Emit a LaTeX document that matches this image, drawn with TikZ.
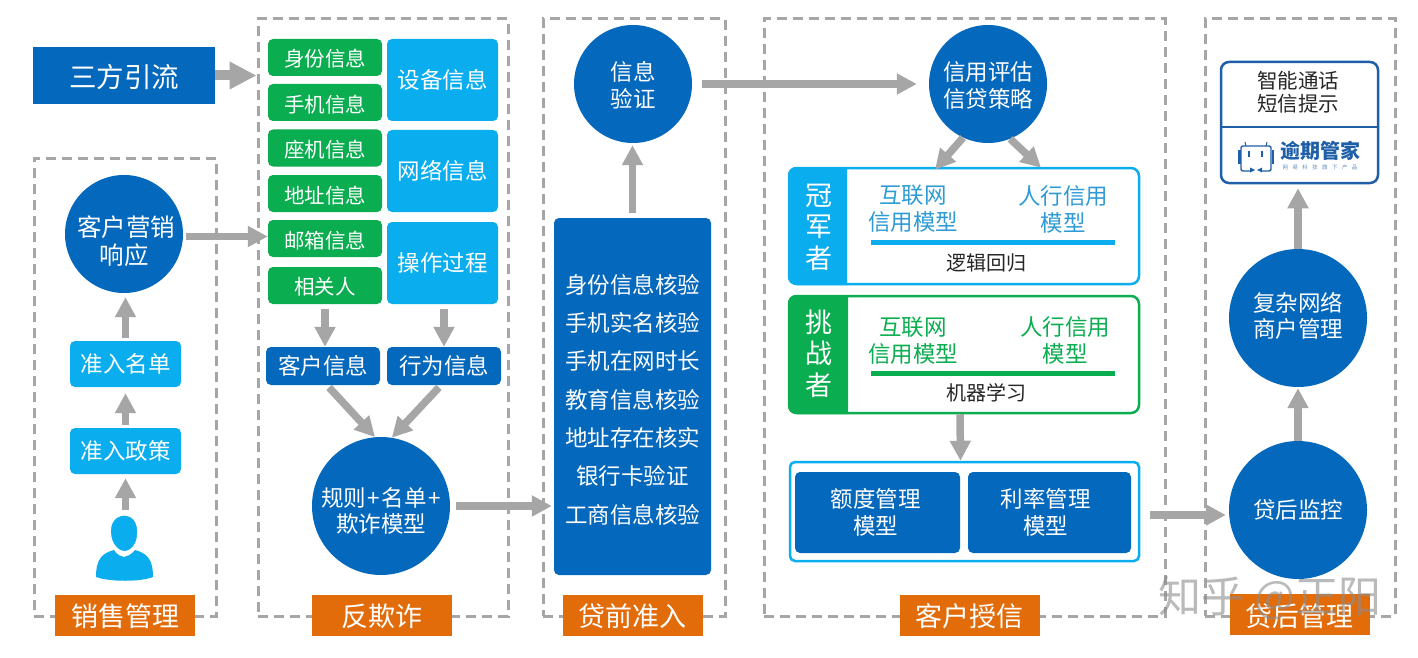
\documentclass[tikz,border=0pt]{standalone}
\usepackage{fontspec}
\setmainfont{Noto Sans CJK SC}
\usetikzlibrary{arrows.meta,calc}
\definecolor{dblue}{HTML}{0468BC}
\definecolor{lblue}{HTML}{0AAEEF}
\definecolor{mgreen}{HTML}{0AAD4F}
\definecolor{orangeb}{HTML}{E36C0A}
\definecolor{arrgray}{HTML}{A6A6A6}
\definecolor{txtblue}{HTML}{2E9BD6}
\definecolor{logoblue}{HTML}{1F5FA8}
\newcommand{\fsz}[2]{\fontsize{#1}{#2}\selectfont}
\newcommand{\nudge}[2]{\raisebox{#1}[\height][\depth]{#2}}
\tikzset{
  x=1pt,y=-1pt,
  box/.style={inner sep=0pt,align=center,text=white,rounded corners=5pt},
  greenbox/.style={box,fill=mgreen,minimum width=114pt,minimum height=37pt,font=\fsz{20.5}{25}},
  bluebox/.style={box,fill=lblue,minimum width=111pt,minimum height=82pt,font=\fsz{22.5}{27}},
  stepbox/.style={box,fill=lblue,minimum width=111pt,minimum height=46pt,font=\fsz{22.5}{27}},
  darkbox/.style={box,fill=dblue,minimum width=114pt,minimum height=38pt,font=\fsz{22.5}{27}},
  modelbox/.style={box,fill=dblue,minimum width=165pt,minimum height=81pt,font=\fsz{22.5}{27}},
  circ/.style={circle,fill=dblue,text=white,inner sep=0pt,align=center,font=\fsz{22.5}{27}},
  smallcirc/.style={circ,minimum size=118pt},
  bigcirc/.style={circ,minimum size=138pt,font=\fsz{22.5}{26}},
  dashbox/.style={draw=arrgray,line width=3pt,dash pattern=on 10pt off 6pt,inner sep=0pt},
  tag/.style={fill=orangeb,text=white,inner sep=0pt,minimum width=140pt,minimum height=41pt,font=\fsz{27}{30}},
  arr/.style={draw=arrgray,line width=7.5pt,-{Triangle[length=20pt,width=20pt]},color=arrgray},
  bigarr/.style={draw=arrgray,line width=10pt,-{Triangle[length=27pt,width=26pt]},color=arrgray},
  framebox/.style={rounded corners=8pt,line width=2.5pt,fill=white,inner sep=0pt},
  modeltxt/.style={inner sep=0pt,align=center,font=\fsz{22.5}{27}},
  tabtxt/.style={inner sep=0pt,align=center,text=white,font=\fsz{27}{31.5}},
  plain/.style={inner sep=0pt,align=center},
}
\begin{document}
\begin{tikzpicture}
\useasboundingbox (0,0) rectangle (1418,658);
\fill[white] (0,0) rectangle (1418,658);

% dashed frames
\node[dashbox,minimum width=182pt,minimum height=458pt] (fsales) at (125,387) {};
\node[dashbox,minimum width=250pt,minimum height=597pt] (ffraud) at (383,317.5) {};
\node[dashbox,minimum width=182pt,minimum height=597pt] (fpre) at (634,317.5) {};
\node[dashbox,minimum width=401pt,minimum height=597pt] (fcredit) at (964.5,317.5) {};
\node[dashbox,minimum width=190pt,minimum height=597pt] (fpost) at (1300,317.5) {};

% tags
\node[tag] (tsales) at (125,615.5) {\nudge{-1pt}{销售管理}};
\node[tag] (tfraud) at (382,615.5) {\nudge{-1pt}{反欺诈}};
\node[tag] (tpre) at (632.5,615.5) {\nudge{-1pt}{贷前准入}};
\node[tag] (tcredit) at (969.5,615.5) {\nudge{-1pt}{客户授信}};
\node[tag] (tpost) at (1299.5,614.5) {\nudge{-2pt}{贷后管理}};

% source
\node[fill=dblue,text=white,inner sep=0pt,minimum width=182pt,minimum height=57pt,font=\fsz{27.5}{30}] (sf) at (124,75.5) {\nudge{-1pt}{三方引流}};

% sales column
\node[smallcirc,font=\fsz{24.5}{28}] (ke) at (124,234) {\kern4pt\nudge{-7pt}{客户营销}\\\nudge{-7pt}{响应}};
\node[stepbox] (zmd) at (125.5,364) {准入名单};
\node[stepbox] (zcz) at (125.5,451) {准入政策};
\node[inner sep=0pt,minimum width=58pt,minimum height=66pt] (person) at (124.5,548) {};
\fill[lblue] (114,550) .. controls (118,556) and (121,556) .. (124,557)
  .. controls (127,556) and (130,556) .. (135,550)
  .. controls (146,553) and (153,558) .. (153,577)
  .. controls (140,582) and (110,582) .. (96,577)
  .. controls (96,558) and (103,553) .. (114,550) -- cycle;
\filldraw[fill=lblue,draw=white,line width=1pt] (124.5,515) .. controls (112,516) and (110,526) .. (110.5,533)
  .. controls (111,544) and (118,551.5) .. (124.5,551.5)
  .. controls (131,551.5) and (138,544) .. (137.5,533)
  .. controls (138,526) and (136,516) .. (124.5,515) -- cycle;

% anti-fraud column
\node[greenbox] (g1) at (325,57.5) {\nudge{-1pt}{身份信息}};
\node[greenbox] (g2) at (325,102.5) {\nudge{-2pt}{手机信息}};
\node[greenbox] (g3) at (325,148) {\nudge{-2pt}{座机信息}};
\node[greenbox] (g4) at (325,193.5) {\nudge{-2.5pt}{地址信息}};
\node[greenbox] (g5) at (325,238.5) {\nudge{-2pt}{邮箱信息}};
\node[greenbox] (g6) at (325,285.5) {\nudge{-1pt}{相关人}};
\node[bluebox] (b1) at (442.5,80) {设备信息};
\node[bluebox] (b2) at (442.5,171) {网络信息};
\node[bluebox] (b3) at (442.5,263) {操作过程};
\node[darkbox] (kh) at (323,366) {客户信息};
\node[darkbox] (xw) at (444,366) {行为信息};
\node[bigcirc] (gz) at (381,506) {\nudge{-4.5pt}{规则\kern1.5pt+\kern1.5pt名单\kern1.5pt+}\\\nudge{-4.5pt}{欺诈模型}};

% pre-loan column
\node[smallcirc] (yz) at (633,84) {\nudge{-1.5pt}{信息}\\\nudge{-1.5pt}{验证}};
\node[box,fill=dblue,minimum width=157pt,minimum height=357pt,font=\fsz{22.5}{38.3}] (qian) at (632.5,396.5)
  {\nudge{-3pt}{身份信息核验}\\\nudge{-3pt}{手机实名核验}\\\nudge{-3pt}{手机在网时长}\\\nudge{-3pt}{教育信息核验}\\\nudge{-3pt}{地址存在核实}\\\nudge{-3pt}{银行卡验证}\\\nudge{-3pt}{工商信息核验}};

% credit column
\node[smallcirc] (xy) at (988,84) {\nudge{-1pt}{信用评估}\\\nudge{-1pt}{信贷策略}};
\node[framebox,draw=lblue,minimum width=350pt,minimum height=116pt] (champ) at (964,226) {};
\fill[lblue] (847,167) [rounded corners=8pt] -- (788,167) -- (788,285) [sharp corners] -- (847,285) -- cycle;
\node[tabtxt] (champtab) at (818.5,227) {冠\\军\\者};
\node[modeltxt,text=txtblue] (c1) at (913,208.5) {互联网\\信用模型};
\node[modeltxt,text=txtblue] (c2) at (1063,209.5) {人行信用\\模型};
\fill[lblue] (871,239.5) rectangle (1115,244.5);
\node[plain,font=\fsz{20}{24},text=black!85] (c3) at (986,263) {逻辑回归};

\node[framebox,draw=mgreen,minimum width=350pt,minimum height=117pt] (tz) at (964,354.5) {};
\fill[mgreen] (848,295) [rounded corners=8pt] -- (788,295) -- (788,414) [sharp corners] -- (848,414) -- cycle;
\node[tabtxt] (tztab) at (819,353.5) {挑\\战\\者};
\node[modeltxt,text=mgreen] (t1) at (913,340.5) {互联网\\信用模型};
\node[modeltxt,text=mgreen] (t2) at (1065,340.5) {人行信用\\模型};
\fill[mgreen] (871,371) rectangle (1115,376);
\node[plain,font=\fsz{20}{24},text=black!85] (t3) at (986,393) {机器学习};

\node[draw=lblue,line width=2.5pt,rounded corners=5pt,inner sep=0pt,minimum width=349pt,minimum height=99pt] (outer) at (964.5,511.5) {};
\node[modelbox] (ed) at (877.5,512.5) {额度管理\kern4pt\\模型\kern4pt};
\node[modelbox,minimum width=163pt] (ll) at (1049.5,512.5) {利率管理\kern8pt\\模型\kern8pt};

% post-loan column
\node[bigcirc] (jk) at (1298,510) {贷后监控};
\node[bigcirc] (fz) at (1298,318) {\nudge{2pt}{复杂网络}\\\nudge{2pt}{商户管理}};
\node[framebox,draw=logoblue,minimum width=157pt,minimum height=121pt] (top) at (1299.5,122.5) {};
\draw[logoblue,line width=2pt] (top.west |- 0,127) -- (top.east |- 0,127);
\node[plain,font=\fsz{20.5}{23},text=black!85] (tt) at (1298,92.5) {智能通话\\短信提示};
% logo
\draw[logoblue,line width=1.4pt,rounded corners=2pt] (1241,146) rectangle (1271,171);
\fill[logoblue] (1238,150) rectangle (1240.5,164);
\fill[logoblue] (1271.5,150) rectangle (1274,164);
\fill[logoblue] (1248,151) rectangle (1250,157);
\fill[logoblue] (1261,151) rectangle (1263,157);
\draw[logoblue,line width=1pt] (1246,146) -- (1245,142);
\draw[logoblue,line width=1pt] (1266,146) -- (1267,142);
\fill[white] (1250,168) rectangle (1262,173);
\fill[logoblue] (1250,167.5) -- (1255,170) -- (1250,172.5) -- cycle;
\fill[logoblue] (1262,167.5) -- (1257,170) -- (1262,172.5) -- cycle;
\node[plain,font=\fsz{20}{24}\bfseries,text=logoblue] (logot) at (1320,151) {逾期管家};
\node[plain,font=\fsz{5.5}{7}\addfontfeature{LetterSpace=80},text=logoblue!70] (logos) at (1320,167) {网易科技旗下产品};

% connectors
\draw[bigarr] (sf.east) -- (sf.east -| ffraud.west);
\draw[arr,shorten <=3pt] ([yshift=2pt]g5.west -| ke.east) -- ([yshift=2pt]g5.west);
\draw[arr,shorten <=3pt,shorten >=4pt] (zmd.north) -- (zmd.north |- ke.south);
\draw[arr,shorten <=3pt,shorten >=6pt] (zcz.north) -- (zmd.south);
\draw[arr,shorten <=5pt,shorten >=4pt] (zcz.south |- person.north) -- (zcz.south);
\draw[arr,shorten <=5pt] (g5.south |- g6.south) -- (g5.south |- kh.north);
\draw[arr,shorten <=5pt] (b3.south -| xw.north) -- (xw.north);
\draw[arr,shorten <=3pt] ([xshift=4pt]kh.south) -- (gz.95);
\draw[arr,shorten <=3pt] ([xshift=-3pt]xw.south) -- (gz.81);
\draw[arr,shorten <=6pt,shorten >=2pt] (gz.east) -- (gz.east -| qian.west);
\draw[arr,shorten <=5pt,shorten >=2pt] (qian.north) -- (qian.north |- yz.south);
\draw[arr,shorten <=10pt,shorten >=12pt] (yz.east) -- (yz.east -| xy.west);
\draw[arr] (xy.245) -- ([xshift=-29pt,yshift=-3pt]champ.north);
\draw[arr] (xy.292) -- ([xshift=77pt,yshift=-1pt]champ.north);
\draw[arr] ([xshift=-4pt]tz.south) -- ([xshift=-4pt]outer.north);
\draw[arr,shorten <=10pt,shorten >=3pt] ([yshift=-3.5pt]outer.east) -- ([yshift=-5pt]jk.west);
\draw[arr,shorten >=1pt] (jk.north) -- (fz.south);
\draw[arr,shorten >=4pt] (fz.north) -- (fz.north |- top.south);

% watermark
\node[plain,text=black!45,opacity=.6,font=\fsz{43}{46}] (wm) at (1270,598) {知乎 @正阳};
\end{tikzpicture}
\end{document}
